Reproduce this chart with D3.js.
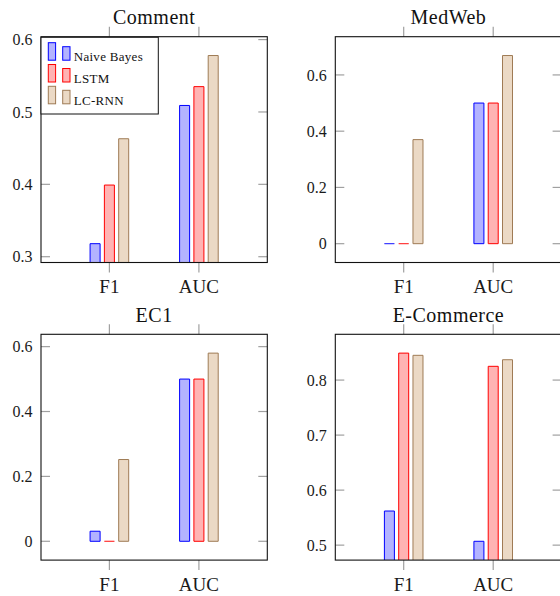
<!DOCTYPE html>
<html>
  <head>
    <script src="https://cdn.jsdelivr.net/npm/d3@7"></script>
    <style>
      html, body {
        margin: 0;
        padding: 0;
        background: white;
      }
      body {
        font-family: 'Liberation Serif', 'Times New Roman', serif;
      }
      #chart svg {
        display: block;
      }
    </style>
  </head>
  <body>
    <div id="chart"></div>
    <script>
      // values
      var categories = ["F1", "AUC"];
      var seriesNames = ["Naive Bayes", "LSTM", "LC-RNN"];
      var panelTitles = ["Comment", "MedWeb", "EC1", "E-Commerce"];

      // one row per panel, one value per category
      var naiveBayes = [[0.318, 0.509], [0, 0.5], [0.031, 0.5], [0.562, 0.507]];
      var lstm = [[0.399, 0.535], [0, 0.5], [0, 0.5], [0.849, 0.825]];
      var lcRnn = [[0.463, 0.578], [0.37, 0.669], [0.252, 0.58], [0.845, 0.837]];

      var yTicks = [
        [0.3, 0.4, 0.5, 0.6],
        [0, 0.2, 0.4, 0.6],
        [0, 0.2, 0.4, 0.6],
        [0.5, 0.6, 0.7, 0.8]
      ];

      var strokes = ["#0000ff", "#ff0000", "#9f7b55"];
      var fills = ["#b3b3ff", "#ffb3b3", "#ebd9c5"];

      var width = 560;
      var height = 596;

      var colX = [41, 335.3];
      var rowY = [36.7, 334.3];
      var plotW = 226.3;
      var plotH = 225.8;

      var svg = d3.select("#chart")
        .append("svg")
        .attr("width", width)
        .attr("height", height);

      var allSeries = [naiveBayes, lstm, lcRnn];

      panelTitles.forEach(function (title, p) {
        var x0 = colX[p % 2];
        var y0 = rowY[Math.floor(p / 2)];

        var vals = [];
        allSeries.forEach(function (s) { vals = vals.concat(s[p]); });
        var lo = d3.min(vals), hi = d3.max(vals);
        var pad = (hi - lo) * 0.1; // pgfplots style enlarge limits

        var y = d3.scaleLinear().domain([lo - pad, hi + pad]).range([plotH, 0]);
        var x = d3.scalePoint().domain(categories).range([0, plotW]).padding(0.764);
        var xs = d3.scaleBand().domain(seriesNames).range([-19.3, 19.3]).paddingInner(0.3);

        var g = svg.append("g").attr("transform", "translate(" + x0 + "," + y0 + ")");

        var clipId = "clip" + p;
        g.append("clipPath").attr("id", clipId)
          .append("rect")
          .attr("x", 0).attr("y", 0)
          .attr("width", plotW).attr("height", plotH);

        var bars = g.append("g").attr("clip-path", "url(#" + clipId + ")");

        allSeries.forEach(function (s, si) {
          categories.forEach(function (c, ci) {
            var v = s[p][ci];
            var bx = x(c) + xs(seriesNames[si]);
            var bw = xs.bandwidth();
            var yTop = y(v);
            var yBase = y(0);
            bars.append("path")
              .attr("d", "M" + bx + "," + yBase + "V" + yTop + "H" + (bx + bw) + "V" + yBase + "Z")
              .attr("fill", fills[si])
              .attr("stroke", strokes[si])
              .attr("stroke-opacity", v === 0 ? 0.6 : 1)
              .attr("stroke-width", 1);
          });
        });

        // y ticks, inside on both sides
        var fmt = function (d) { return d === 0 ? "0" : d3.format(".1f")(d); };
        yTicks[p].forEach(function (t) {
          var ty = y(t);
          g.append("line").attr("x1", 0).attr("x2", 9).attr("y1", ty).attr("y2", ty)
            .attr("stroke", "#a0a0a0").attr("stroke-width", 1.2);
          g.append("line").attr("x1", plotW - 9).attr("x2", plotW).attr("y1", ty).attr("y2", ty)
            .attr("stroke", "#a0a0a0").attr("stroke-width", 1.2);
          g.append("text")
            .attr("x", -8.5).attr("y", ty)
            .attr("dy", "0.35em")
            .attr("text-anchor", "end")
            .attr("font-size", 16)
            .attr("fill", "#1a1a1a")
            .text(fmt(t));
        });

        // x ticks, outside top and bottom
        categories.forEach(function (c) {
          g.append("line").attr("x1", x(c)).attr("x2", x(c)).attr("y1", -10).attr("y2", 0)
            .attr("stroke", "#a0a0a0").attr("stroke-width", 1.2);
          g.append("line").attr("x1", x(c)).attr("x2", x(c)).attr("y1", plotH).attr("y2", plotH + 10)
            .attr("stroke", "#a0a0a0").attr("stroke-width", 1.2);
          g.append("text")
            .attr("x", x(c)).attr("y", plotH + 30.5)
            .attr("text-anchor", "middle")
            .attr("font-size", 19)
            .attr("fill", "#1a1a1a")
            .text(c);
        });

        g.append("rect")
          .attr("x", 0).attr("y", 0)
          .attr("width", plotW).attr("height", plotH)
          .attr("fill", "none")
          .attr("stroke", "#111")
          .attr("stroke-width", 1.1);

        g.append("text")
          .attr("x", plotW / 2).attr("y", -12.5)
          .attr("text-anchor", "middle")
          .attr("font-size", 20)
          .attr("letter-spacing", 0.5)
          .attr("fill", "#111")
          .text(title);

        // legend only on the first panel
        if (p === 0) {
          var lg = g.append("g");
          lg.append("rect")
            .attr("x", 0).attr("y", 0.6)
            .attr("width", 117.3).attr("height", 76.7)
            .attr("fill", "white")
            .attr("stroke", "#111")
            .attr("stroke-width", 1);
          seriesNames.forEach(function (name, si) {
            var base = 23.5 + si * 21.8;
            lg.append("rect")
              .attr("x", 7.3).attr("y", base - 17.5)
              .attr("width", 7.3).attr("height", 17.5)
              .attr("fill", fills[si]).attr("stroke", strokes[si]).attr("stroke-width", 1);
            lg.append("rect")
              .attr("x", 21.7).attr("y", base - 13.5)
              .attr("width", 7.3).attr("height", 13.5)
              .attr("fill", fills[si]).attr("stroke", strokes[si]).attr("stroke-width", 1);
            lg.append("text")
              .attr("x", 32.7).attr("y", base + 1)
              .attr("font-size", 13)
              .attr("letter-spacing", 0.3)
              .attr("fill", "#111")
              .text(name);
          });
        }
      });
    </script>
  </body>
</html>
